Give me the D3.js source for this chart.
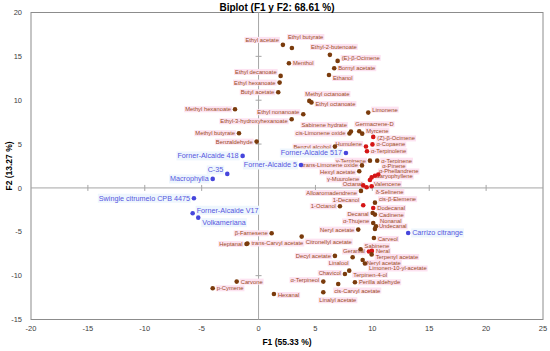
<!DOCTYPE html>
<html>
<head>
<meta charset="utf-8">
<script src="https://cdn.jsdelivr.net/npm/d3@7"></script>
<style>
	body{margin:0;background:#fff;}
	text{font-family:"Liberation Sans", Arial, sans-serif;}
</style>
</head>
<body>
<svg id="chart" width="550" height="351"></svg>
<script>
/*
	Biplot F1 / F2
	compounds (brown / red) and rootstocks (blue)
*/
const compounds = ["Ethyl acetate","Ethyl butyrate","Ethyl-2-butenoate","(E)-β-Ocimene","Menthol","Bornyl acetate","Ethanol",
	"Ethyl decanoate","Ethyl hexanoate","Butyl acetate","Methyl octanoate","Ethyl octanoate","Ethyl nonanoate","Ethyl-3-hydroxyhexanoate",
	"Methyl hexanoate","Methyl butyrate","Benzaldehyde","Limonene","Sabinene hydrate","cis-Limonene oxide","Germacrene-D","Myrcene",
	"(Z)-β-Ocimene","Benzyl alcohol","Humulene","α-Copaene","α-Terpinolene","γ-Terpinene","α-Terpinene","trans-Limonene oxide",
	"Hexyl acetate","α-Pinene","α-Phellandrene","Caryophyllene","Valencene","γ-Muurolene","Octanal","Alloaromadendrene","δ-Selinene",
	"cis-β-Elemene","1-Decanol","1-Octanol","Dodecanal","Decanal","Cadinene","α-Thujene","Nonanal","Undecanal","Neryl acetate",
	"Carveol","Citronellyl acetate","β-Farnesene","Heptanal","trans-Carvyl acetate","Decyl acetate","Sabinene","Geranial","Neral",
	"Terpenyl acetate","Linalool","Neryl acetate","Limonen-10-yl-acetate","Chavicol","Terpinen-4-ol","α-Terpineol","Perilla aldehyde",
	"cis-Carvyl acetate","Linalyl acetate","Carvone","p-Cymene","Hexanal"];
const compF1 = [2.14,2.93,6.27,6.95,2.67,6.65,6.19,
	1.94,1.85,1.73,4.46,4.65,3.93,2.91,
	-2.07,-1.72,-0.17,9.64,8.12,7.99,8.85,9.11,
	10.08,6.71,9.44,10.01,9.53,9.79,10.43,9.09,
	8.85,10.52,10.23,9.94,9.79,9.20,9.50,9.00,9.94,
	10.23,9.20,7.15,10.08,10.03,10.23,10.08,10.32,10.23,8.76,
	10.14,3.79,1.15,-1.06,-0.98,6.71,8.97,9.70,9.96,
	9.94,8.27,9.15,9.35,7.59,7.97,5.69,8.47,
	7.00,5.69,-1.92,-4.03,1.35];
const compF2 = [16.31,15.96,15.17,14.48,14.22,13.65,12.88,
	12.77,12.01,10.91,9.92,9.75,8.40,7.83,
	8.97,6.24,5.28,8.59,6.44,6.21,6.47,6.19,
	5.82,4.71,4.73,4.96,4.18,3.11,3.11,2.57,
	1.90,1.52,1.39,1.20,0.91,0.29,0.08,-0.34,0.19,
	-1.68,-1.97,-2.09,-2.28,-2.85,-3.04,-3.99,-4.37,-4.67,-4.75,
	-5.70,-5.55,-5.17,-6.39,-6.33,-7.75,-6.99,-7.24,-7.18,
	-7.58,-7.90,-8.21,-8.61,-9.81,-9.43,-10.68,-10.75,
	-10.95,-11.89,-10.68,-11.44,-12.09];
// b = brown, r = red
const compGroup = ["b","b","b","b","b","b","b",
	"b","b","b","b","b","b","b",
	"b","b","b","b","b","b","b","b",
	"r","b","r","r","r","b","b","b",
	"b","r","r","r","r","r","r","b","r",
	"b","r","b","r","b","b","b","b","b","b",
	"b","b","b","b","b","b","b","r","r",
	"b","b","b","b","b","b","b","b",
	"b","b","b","b","b"];
// label placement: anchor letter + optional vertical shift
const compSide = ["l-5","R-11","t","r-3","r","r","r+3",
	"l-4","l","l","R-7","r+1.5","l-2","l+2",
	"l","l","l","r-3","l-6.5","l","R-7","r-3",
	"r+1.5","l","l-2.5","r","r","l","r","l",
	"l+1","r-8.4","r-4.3","r-1","r+4","l-6","l-3","l+2","r+5.5",
	"r-3.5","l-5","l","r","l+1.5","r","l-1.5","r-5.5","r-2.5","l",
	"r+1","r+5","l","l","r","l","r-3.5","l","r",
	"r+2.5","l+6","r+3","r+5","l-1","r+4","l-1.5","r",
	"R+6.5","R+8","r","r","r+1"];

const varieties = ["Forner-Alcaide 418","Forner-Alcaide 5","Forner-Alcaide 517","C-35","Macrophylla",
	"Swingle citrumelo CPB 4475","Forner-Alcaide V17","Volkameriana","Carrizo citrange"];
const varF1 = [-1.40,3.73,7.68,-2.75,-4.03,-5.68,-5.79,-5.30,13.15];
const varF2 = [3.65,2.62,3.99,1.60,1.03,-1.17,-2.88,-3.39,-5.13];
const varSide = ["l","l","l","l-4","l","l","r-3","r+5","r"];

const xTicks = [-20,-15,-10,-5,0,5,10,15,20,25];
const yTicks = [-15,-10,-5,0,5,10,15,20];

const svg = d3.select("#chart");

const x = d3.scaleLinear().domain([-20, 25]).range([31, 543]);
const y = d3.scaleLinear().domain([-15, 20]).range([319.5, 12.5]);

const ANCHORS = {
	r: {a:"start", dx:4, dy:0},
	R: {a:"start", dx:-4, dy:0},
	l: {a:"end", dx:-4, dy:0},
	t: {a:"middle", dx:4, dy:-8},
	b: {a:"middle", dx:0, dy:8}
};
function place(code){
	const k = ANCHORS[code[0]];
	const shift = code.length > 1 ? parseFloat(code.slice(1)) : null;
	return {a: k.a, dx: k.dx, dy: shift == null ? k.dy : shift};
}

// frame
svg.append("rect")
	.attr("x", x(-20)).attr("y", y(20))
	.attr("width", x(25) - x(-20)).attr("height", y(-15) - y(20))
	.attr("fill", "none").attr("stroke", "#8c8c8c").attr("stroke-width", 1);

// zero lines with small crossing ticks
svg.append("line").attr("x1", x(-20)).attr("x2", x(25)).attr("y1", y(0)).attr("y2", y(0))
	.attr("stroke", "#a6a6a6").attr("stroke-width", 1);
svg.append("line").attr("x1", x(0)).attr("x2", x(0)).attr("y1", y(20)).attr("y2", y(-15))
	.attr("stroke", "#a6a6a6").attr("stroke-width", 1);

svg.append("g").selectAll("line").data(xTicks.filter(t => t > -20 && t < 25 && t != 0)).enter().append("line")
	.attr("x1", d => x(d)).attr("x2", d => x(d)).attr("y1", y(0) - 3).attr("y2", y(0) + 3)
	.attr("stroke", "#a6a6a6");
svg.append("g").selectAll("line").data(yTicks.filter(t => t > -15 && t < 20 && t != 0)).enter().append("line")
	.attr("x1", x(0) - 3).attr("x2", x(0) + 3).attr("y1", d => y(d)).attr("y2", d => y(d))
	.attr("stroke", "#a6a6a6");

// tick labels
svg.append("g").selectAll("text").data(xTicks).enter().append("text")
	.attr("x", d => x(d)).attr("y", 331)
	.attr("text-anchor", "middle").attr("font-size", 7.5).attr("fill", "#404040")
	.text(d => d);
svg.append("g").selectAll("text").data(yTicks).enter().append("text")
	.attr("x", 22).attr("y", d => y(d) + 2.6)
	.attr("text-anchor", "end").attr("font-size", 7.5).attr("fill", "#404040")
	.text(d => d);

// titles
svg.append("text").attr("x", 277).attr("y", 10.5).attr("text-anchor", "middle")
	.attr("font-size", 10).attr("font-weight", "bold").attr("fill", "#000")
	.text("Biplot (F1 y F2: 68.61 %)");
svg.append("text").attr("x", 287).attr("y", 345).attr("text-anchor", "middle")
	.attr("font-size", 8.5).attr("font-weight", "bold").attr("fill", "#000")
	.text("F1 (55.33 %)");
svg.append("text").attr("transform", "translate(12,166) rotate(-90)").attr("text-anchor", "middle")
	.attr("font-size", 8.5).attr("font-weight", "bold").attr("fill", "#000")
	.text("F2 (13.27 %)");

const compData = compounds.map((n, i) => ({name: n, f1: compF1[i], f2: compF2[i], g: compGroup[i], p: place(compSide[i])}));
const varData = varieties.map((n, i) => ({name: n, f1: varF1[i], f2: varF2[i], p: place(varSide[i])}));

function drawLabels(data, size, color, bg){
	const g = svg.append("g");
	const items = g.selectAll("g").data(data).enter().append("g");
	const txt = items.append("text")
		.attr("x", d => x(d.f1) + d.p.dx)
		.attr("y", d => y(d.f2) + d.p.dy)
		.attr("dy", "0.35em")
		.attr("text-anchor", d => d.p.a)
		.attr("font-size", size).attr("fill", color)
		.text(d => d.name);
	txt.each(function(){
		const b = this.getBBox();
		d3.select(this.parentNode).insert("rect", "text")
			.attr("x", b.x - 1).attr("y", b.y).attr("width", b.width + 2).attr("height", b.height)
			.attr("fill", bg);
	});
}

drawLabels(compData, 5.8, "#9a4a22", "#fde3f1");
drawLabels(varData, 7.2, "#5656e0", "#eef6fd");

// points
svg.append("g").selectAll("circle").data(compData).enter().append("circle")
	.attr("cx", d => x(d.f1)).attr("cy", d => y(d.f2)).attr("r", 2.3)
	.attr("fill", d => d.g == "r" ? "#d51515" : "#7a3b0c");
svg.append("g").selectAll("circle").data(varData).enter().append("circle")
	.attr("cx", d => x(d.f1)).attr("cy", d => y(d.f2)).attr("r", 2.3)
	.attr("fill", "#4646dc");
</script>
</body>
</html>
